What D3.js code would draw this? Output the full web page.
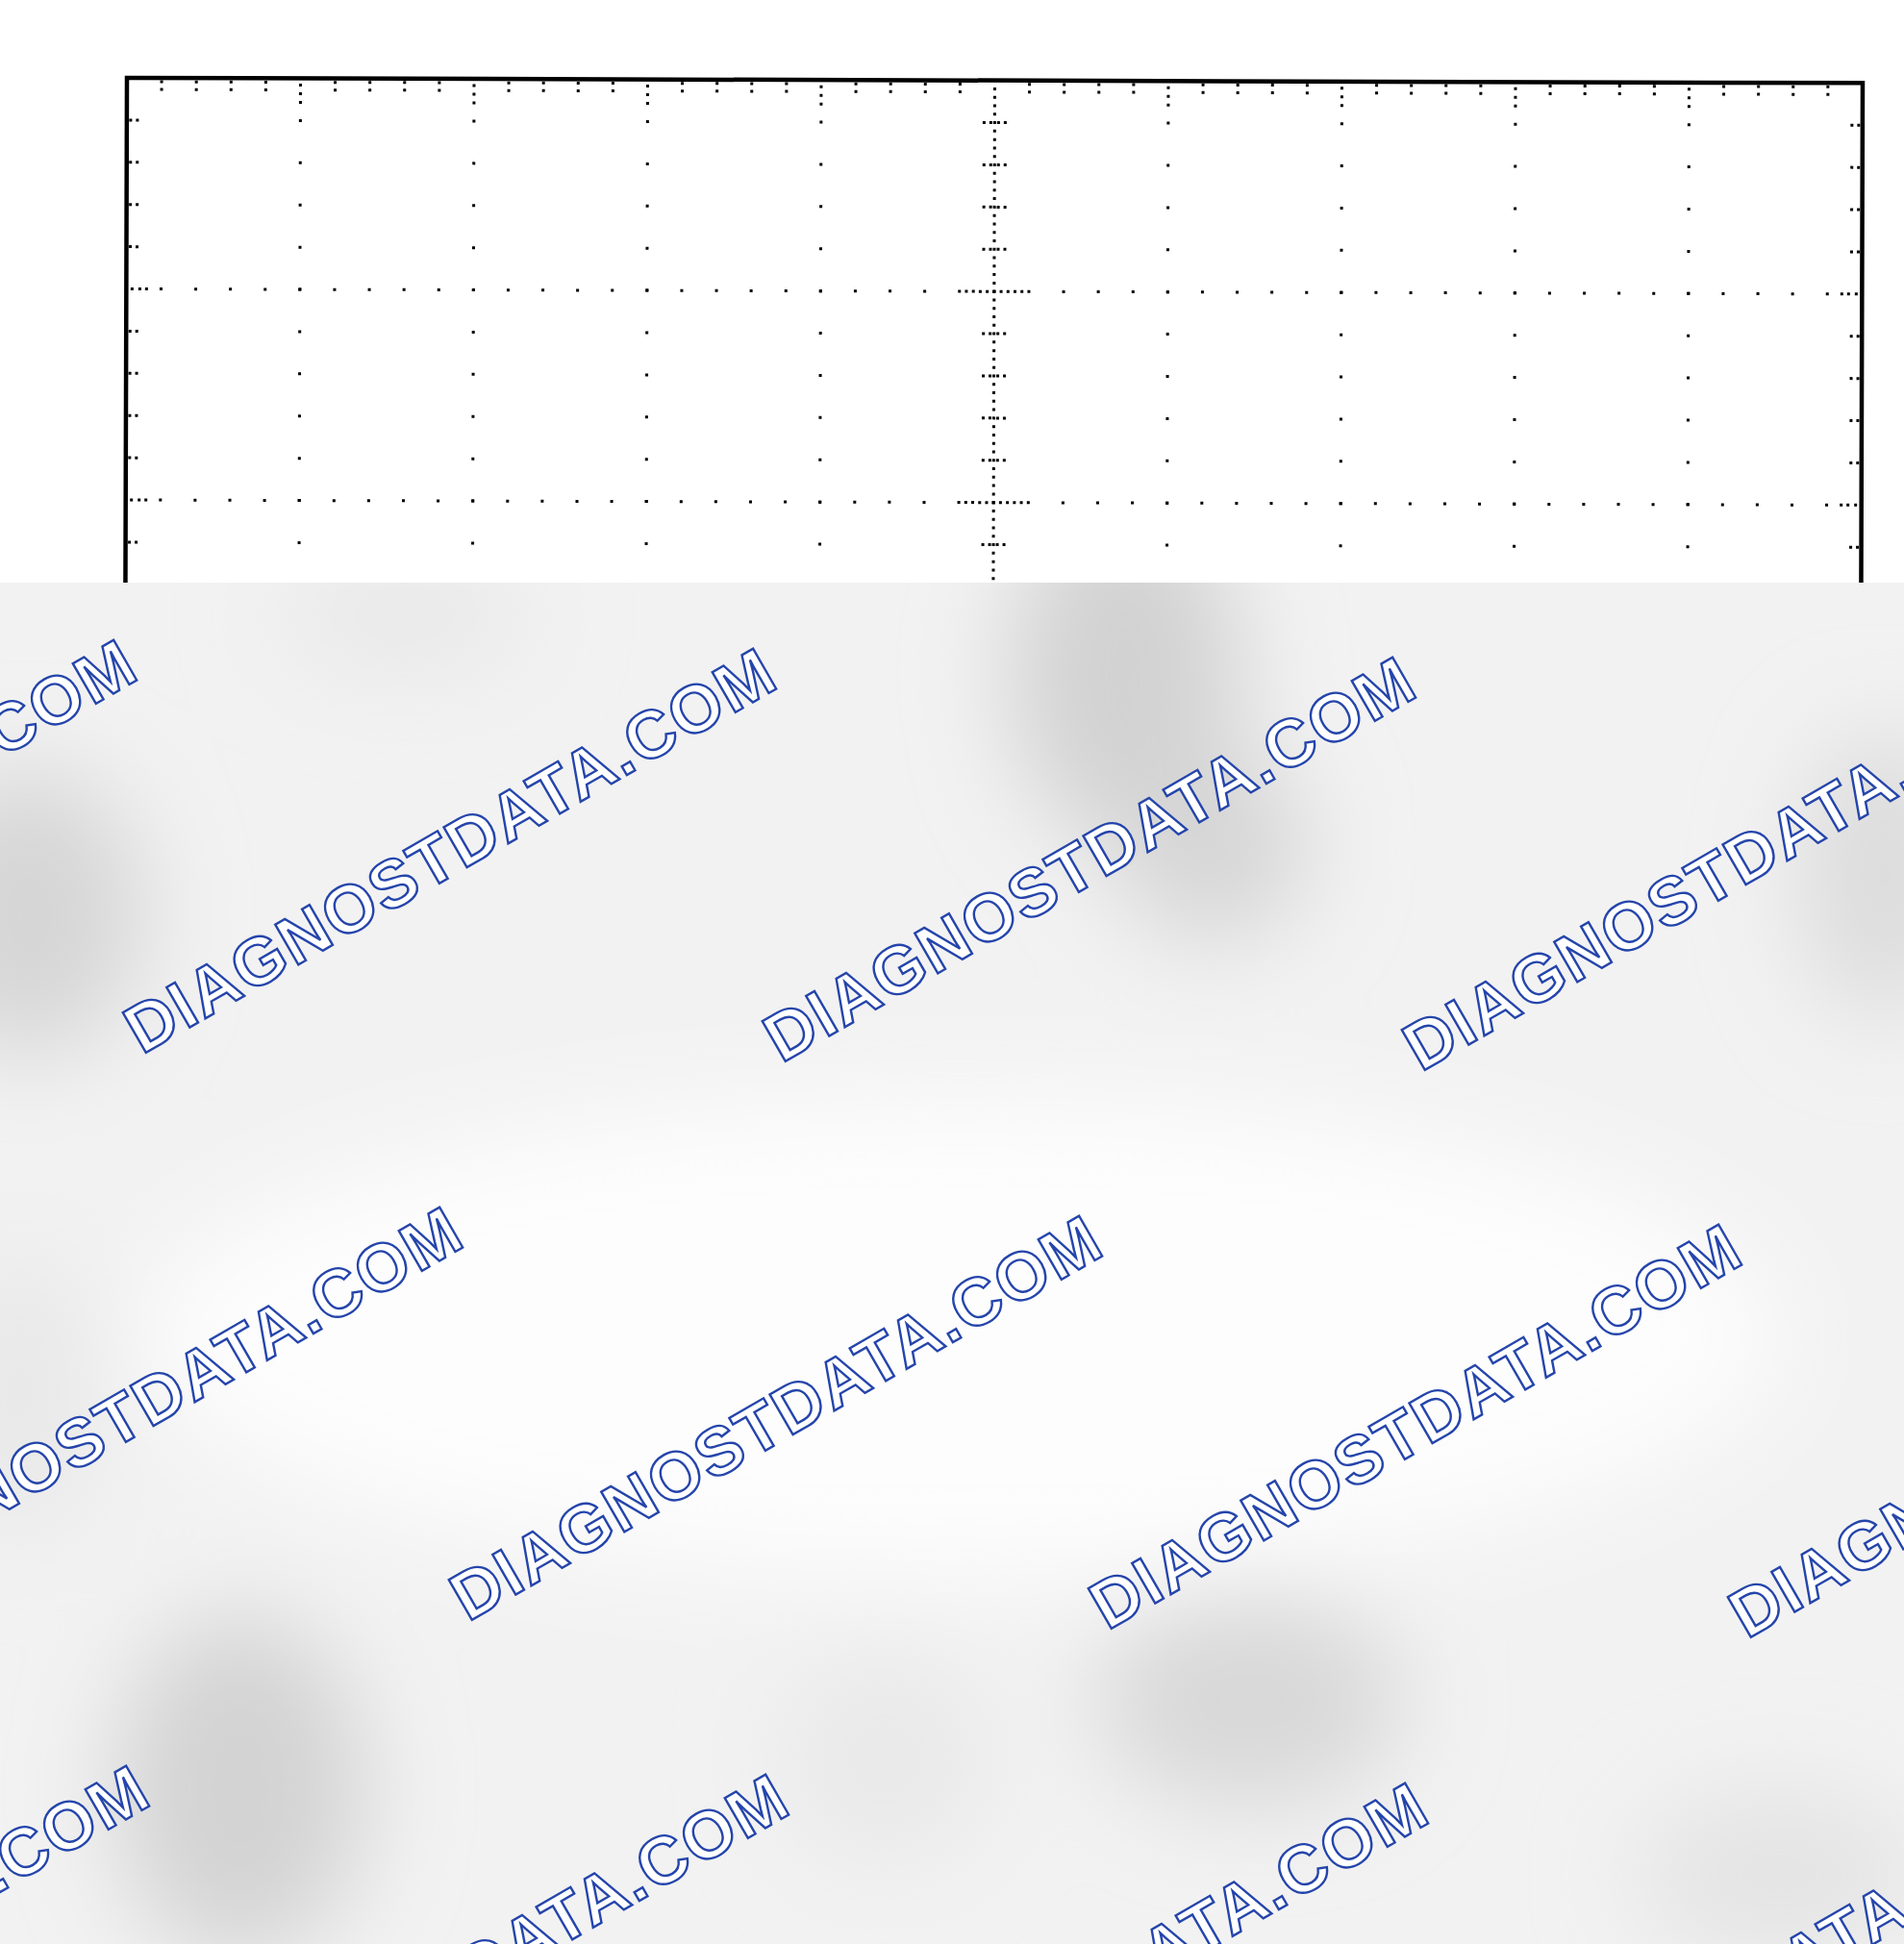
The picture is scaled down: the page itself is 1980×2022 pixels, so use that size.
<!DOCTYPE html>
<html>
<head>
<meta charset="utf-8">
<script src="https://cdn.jsdelivr.net/npm/d3@7"></script>
<style>
  html, body { margin: 0; padding: 0; background: #fff; }
  svg { display: block; }
</style>
</head>
<body>
<script>
// scope graticule, 10 x 8 divisions, no trace on it
const xDivs = [0, 1, 2, 3, 4, 5, 6, 7, 8, 9, 10]
const yDivs = [0, 1, 2, 3, 4, 5, 6, 7, 8]
const minorPerDiv = 5
const finePerMinor = 5
const watermark = 'DIAGNOSTDATA.COM'
const wmCols = [-2, -1, 0, 1, 2, 3]
const wmRows = [-1, 0, 1, 2, 3]

let w = 1980
let h = 2022
let gLeft = 132, gRight = 1937, gTop = 81, divH = 219.5
let coverTop = 606

let x = d3.scaleLinear().domain([0, 10]).range([gLeft, gRight])
let y = d3.scaleLinear().domain([0, 8]).range([gTop, gTop + 8 * divH])

let svg = d3.select('body').append('svg').attr('width', w).attr('height', h)
svg.append('rect').attr('width', w).attr('height', h).attr('fill', '#fff')

let grid = svg.append('g').attr('transform', 'rotate(0.17,' + gLeft + ',' + gTop + ')')

let xMinor = d3.range(0, 10 * minorPerDiv + 1).map(i => i / minorPerDiv)
let yMinor = d3.range(0, 8 * minorPerDiv + 1).map(i => i / minorPerDiv)
let yFine = d3.range(0, 8 * minorPerDiv * finePerMinor + 1).map(i => i / (minorPerDiv * finePerMinor))
let isMajor = v => Math.abs(v - Math.round(v)) < 1e-6

let dots = []
// dotted horizontal lines
yDivs.filter(d => d > 0 && d < 8).forEach(yv => {
  xMinor.filter(v => v > 0 && v < 10).forEach(xv => dots.push([x(xv), y(yv)]))
  d3.range(-4, 5).forEach(k => dots.push([x(5) + k * 7.22, y(yv)]))
  ;[6, 14, 21].forEach(o => { dots.push([gLeft + o, y(yv)]); dots.push([gRight - o, y(yv)]) })
})
// dotted vertical lines
xDivs.filter(d => d > 0 && d < 10 && d !== 5).forEach(xv => {
  yMinor.filter(v => v > 0 && v < 8).forEach(yv => dots.push([x(xv), y(yv)]))
  ;[7, 16, 25].forEach(o => dots.push([x(xv), gTop + o]))
})
// centre line, fine steps with small cross marks
yFine.filter(v => v > 0 && v < 8).forEach(yv => dots.push([x(5), y(yv)]))
yMinor.filter(v => v > 0 && v < 8 && !isMajor(v)).forEach(yv => {
  ;[-11, -4, 4, 11].forEach(o => dots.push([x(5) + o, y(yv)]))
})
// edge ticks
yMinor.filter(v => v > 0 && v < 8 && !isMajor(v)).forEach(yv => {
  ;[4, 11].forEach(o => { dots.push([gLeft + o, y(yv)]); dots.push([gRight - o, y(yv)]) })
})
xMinor.filter(v => v > 0 && v < 10 && !isMajor(v)).forEach(xv => {
  ;[4, 12].forEach(o => dots.push([x(xv), gTop + o]))
})

grid.selectAll('rect.dot')
  .data(dots)
  .enter()
  .append('rect')
  .attr('class', 'dot')
  .attr('x', d => d[0] - 1.5)
  .attr('y', d => d[1] - 1.5)
  .attr('width', 3)
  .attr('height', 3)
  .attr('fill', '#000')

grid.append('rect')
  .attr('x', x(0)).attr('y', y(0))
  .attr('width', x(10) - x(0)).attr('height', y(8) - y(0))
  .attr('fill', 'none').attr('stroke', '#000').attr('stroke-width', 4.5)

// watermark sheet over the lower part
let defs = svg.append('defs')
defs.append('clipPath').attr('id', 'cover')
  .append('rect').attr('x', 0).attr('y', coverTop).attr('width', w).attr('height', h - coverTop)
defs.append('filter').attr('id', 'soft')
  .attr('x', '-50%').attr('y', '-50%').attr('width', '200%').attr('height', '200%')
  .append('feGaussianBlur').attr('stdDeviation', 50)

let cover = svg.append('g').attr('clip-path', 'url(#cover)')
cover.append('rect').attr('x', 0).attr('y', coverTop).attr('width', w).attr('height', h - coverTop).attr('fill', '#f2f2f2')

let shades = [
  { cx: 1000, cy: 1390, rx: 850, ry: 250, c: '#fdfdfd' },
  { cx: 1170, cy: 700, rx: 120, ry: 180, c: '#d2d2d2' },
  { cx: 1260, cy: 880, rx: 100, ry: 100, c: '#d5d5d5' },
  { cx: 30, cy: 950, rx: 120, ry: 150, c: '#d6d6d6' },
  { cx: 420, cy: 640, rx: 130, ry: 60, c: '#e8e8e8' },
  { cx: 250, cy: 1860, rx: 130, ry: 180, c: '#d3d3d3' },
  { cx: 1300, cy: 1770, rx: 160, ry: 110, c: '#d8d8d8' },
  { cx: 1960, cy: 910, rx: 90, ry: 150, c: '#dcdcdc' },
  { cx: 920, cy: 1830, rx: 110, ry: 110, c: '#e9e9e9' },
  { cx: 1850, cy: 1950, rx: 150, ry: 90, c: '#e4e4e4' },
  { cx: 20, cy: 1450, rx: 80, ry: 150, c: '#e8e8e8' }
]
cover.append('g').attr('filter', 'url(#soft)')
  .selectAll('ellipse')
  .data(shades)
  .enter()
  .append('ellipse')
  .attr('cx', d => d.cx).attr('cy', d => d.cy)
  .attr('rx', d => d.rx).attr('ry', d => d.ry)
  .attr('fill', d => d.c)

let step = { ax: 665, ay: 9, bx: 339, by: 590 }
let origin = [467, 884]
let marks = []
wmRows.forEach(j => wmCols.forEach(i => marks.push([origin[0] + i * step.ax + j * step.bx, origin[1] + i * step.ay + j * step.by])))
// only the copies that reach the sheet
marks = marks.filter(d => d[1] + 225 > coverTop && d[1] - 225 < h && d[0] + 390 > 0 && d[0] - 390 < w)

cover.selectAll('text.wm')
  .data(marks)
  .enter()
  .append('text')
  .attr('class', 'wm')
  .attr('transform', d => 'translate(' + d[0] + ',' + d[1] + ') rotate(-30)')
  .attr('text-anchor', 'middle')
  .attr('dy', '0.358em')
  .attr('font-family', 'Liberation Sans, Arial, sans-serif')
  .attr('font-weight', 'bold')
  .attr('font-size', 70)
  .attr('textLength', 766)
  .attr('lengthAdjust', 'spacing')
  .attr('fill', '#fff')
  .attr('stroke', '#2545ab')
  .attr('stroke-width', 2.4)
  .text(watermark)
</script>
</body>
</html>
